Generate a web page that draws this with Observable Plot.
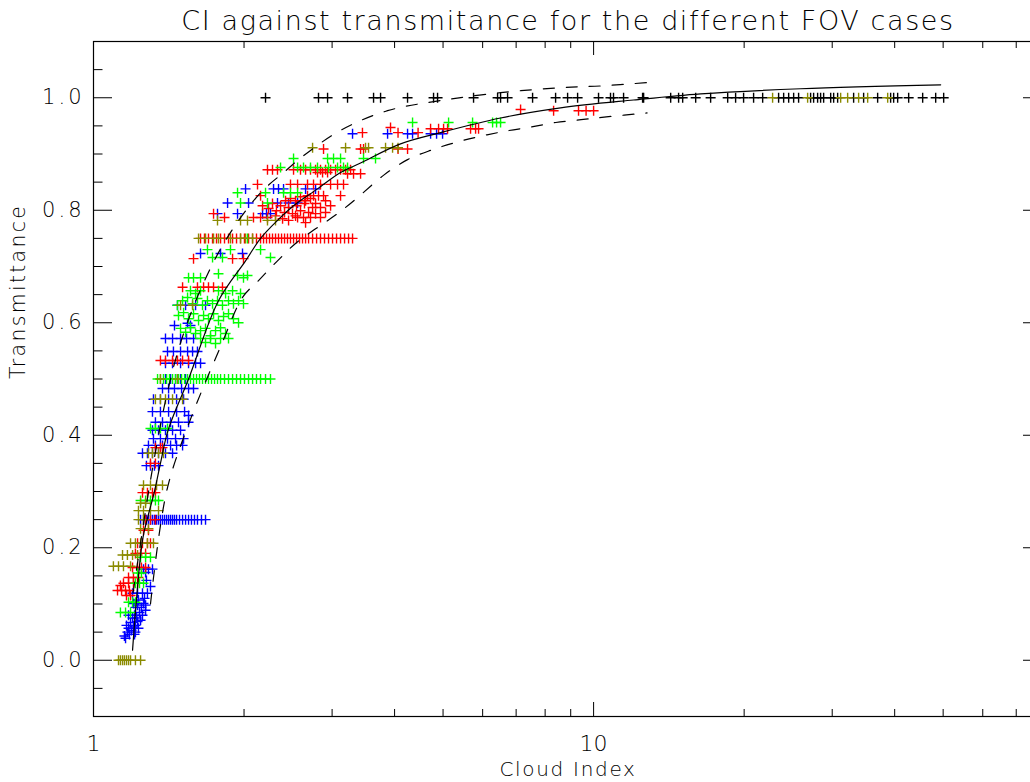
<!DOCTYPE html>
<html><head><meta charset="utf-8">
<script src="https://cdn.jsdelivr.net/npm/d3@7"></script>
<script src="https://cdn.jsdelivr.net/npm/@observablehq/plot@0.6"></script>
<style>
html,body{margin:0;padding:0;background:#fff;overflow:hidden;width:1030px;height:782px;}
#chart{position:absolute;left:0;top:0;width:1045px;}
#chart svg{max-width:none !important;}
</style></head><body><div id="chart"></div>
<script>
// ---- data (Cloud Index, Transmittance); rows are [T, CI, CI, ...] ----
const blueRows = [
 [0.039,1.159],[0.043,1.153],[0.046,1.180,1.208],[0.050,1.169,1.213],[0.053,1.191],
 [0.057,1.175,1.230],[0.059,1.202],[0.062,1.164,1.213],[0.067,1.186],[0.069,1.225],
 [0.071,1.242],[0.075,1.197,1.219],[0.080,1.175,1.208,1.253],[0.085,1.236],[0.089,1.271],
 [0.094,1.213,1.247],[0.098,1.225,1.271],[0.101,1.202,1.259],[0.107,1.230],[0.110,1.265],
 [0.119,1.197,1.225,1.253,1.282],[0.131,1.300],[0.142,1.276],[0.156,1.271],[0.162,1.259,1.288,1.312],
 [0.25,1.242,1.259,1.276,1.288,1.300,1.312,1.324,1.337,1.349,1.361,1.374,1.387,1.400,1.413,1.426,1.439,1.452,1.466,1.486,1.507,1.528,1.549,1.570,1.592,1.614,1.644,1.675],
 [0.346,1.276,1.300,1.324,1.349],
 [0.368,1.253,1.282,1.312,1.349,1.393,1.439],
 [0.382,1.288,1.330,1.374,1.426,1.466,1.507],
 [0.394,1.318,1.361,1.406,1.459,1.514],
 [0.409,1.312,1.349,1.393,1.439,1.493],
 [0.423,1.330,1.374,1.426,1.479,1.549],
 [0.435,1.549],
 [0.442,1.312,1.361,1.413,1.466,1.521],
 [0.464,1.318,1.361,1.413,1.466,1.514],
 [0.483,1.374,1.413,1.452,1.500,1.549,1.585],
 [0.5,1.393,1.426,1.459,1.493,1.528],
 [0.528,1.393,1.439,1.493,1.549,1.600,1.637],
 [0.549,1.406,1.445,1.493,1.542,1.578,1.614],
 [0.572,1.393,1.439,1.493,1.535,1.585],
 [0.595,1.452,1.563],[0.599,1.542],
 [0.631,1.472,1.528,1.600,1.675],
 [0.723,1.637,1.795,1.986],
 [0.794,1.770,1.941,2.178,2.218,2.259],
 [0.813,1.854,2.042,2.333,2.455,2.559],
 [0.838,2.014,2.291,2.344,2.399,2.655,2.780],
 [0.936,3.296,3.873,4.246,4.345,4.721,4.853,4.989]
];
const redRows = [
 [0.115,1.164,1.186],[0.124,1.117,1.138,1.159,1.180],[0.133,1.132],
 [0.137,1.148,1.175,1.202,1.225],[0.147,1.175,1.202,1.230],[0.165,1.197,1.225,1.247,1.271],
 [0.190,1.213,1.242,1.271],[0.208,1.225,1.253,1.282,1.300],[0.231,1.259,1.288],
 [0.25,1.271,1.300,1.330],[0.298,1.253,1.282,1.312,1.330],[0.35,1.300,1.330],[0.378,1.330,1.361,1.374],
 [0.533,1.361,1.393,1.439,1.472,1.507,1.549],
 [0.663,1.507,1.614,1.660,1.698,1.738,1.811],
 [0.714,1.585,1.897,1.995],
 [0.75,1.637,1.667,1.698,1.730,1.762,1.795,1.828,1.862,1.897,1.932,1.968,2.004,2.042,2.080,2.118,2.158,2.188,2.218,2.249,2.280,2.312,2.344,2.377,2.410,2.443,2.477,2.512,2.547,2.582,2.618,2.655,2.692,2.742,2.793,2.844,2.897,2.951,3.006,3.062,3.119,3.177,3.236,3.296],
 [0.778,2.655],[0.782,2.455],[0.785,2.388],
 [0.787,1.828,2.089,2.158,2.228,2.559,2.630,2.716,2.844],
 [0.790,2.312,2.535],[0.794,1.738,2.500,2.780],[0.796,2.410,2.692,2.911],[0.799,2.322,2.594],
 [0.803,2.239],[0.805,2.455,2.742,2.844],[0.808,2.178,2.366,2.547,2.979],[0.812,2.280,2.642,2.780],
 [0.817,2.421,2.535,2.655,2.911],[0.821,2.477,2.716],[0.824,2.594],
 [0.826,2.158,2.679,2.754,2.818,2.884,3.119],
 [0.846,2.128,2.477,2.559,2.679,2.754,2.844,2.979,3.076,3.162],
 [0.865,3.221,3.311,3.420],[0.867,2.805,2.871,2.938],
 [0.872,2.228,2.280,2.333,2.512,2.594,2.655,2.716,2.780,2.844,2.911,2.979,3.048,3.119,3.192,3.266],
 [0.909,2.884,3.420,3.467,4.064,4.246],
 [0.938,3.450,4.064,4.457],
 [0.945,4.721,4.898,5.012,5.105,5.675,5.808,5.888],
 [0.947,3.926],
 [0.977,8.318,9.330,9.660,10.0],[0.979,7.145]
];
const greenRows = [
 [0.085,1.132,1.159,1.186],[0.103,1.175,1.197,1.213],[0.137,1.213,1.236,1.259],
 [0.155,1.225,1.247],[0.183,1.242,1.271,1.300],[0.284,1.242,1.271,1.300,1.330,1.349],
 [0.412,1.300,1.330,1.361,1.406],
 [0.5,1.343,1.361,1.380,1.400,1.419,1.439,1.459,1.479,1.500,1.521,1.542,1.563,1.585,1.607,1.629,1.652,1.675,1.698,1.722,1.746,1.770,1.795,1.828,1.862,1.897,1.932,1.968,2.004,2.042,2.080,2.118,2.158,2.208,2.259],
 [0.563,1.754],[0.565,1.675],[0.572,1.637,1.714,1.795,1.862],[0.577,1.714],[0.581,1.600,1.837],
 [0.583,1.528],[0.586,1.637,1.754],[0.590,1.493,1.675],[0.591,1.563,1.795],[0.600,1.950],
 [0.604,1.622,1.778],[0.607,1.549,1.698,1.905],[0.611,1.820],[0.613,1.479,1.660],
 [0.616,1.585,1.738,1.862],[0.618,1.514],[0.631,1.472,1.652,1.811],[0.634,1.578,1.730,1.905,1.995],
 [0.639,1.507,1.690,1.770,1.862,1.950],[0.643,1.614],[0.645,1.542],[0.652,1.600,1.837,1.968],
 [0.657,1.563,1.637,1.778,1.897],[0.680,1.549,1.585,1.637,1.995],[0.684,1.941,2.032],[0.687,1.778],
 [0.716,1.730,1.811,2.259],[0.730,1.690,1.879,2.158],[0.75,2.032],
 [0.813,1.968,2.228],[0.831,1.941,2.208,2.399,2.477,2.559],
 [0.876,2.366,2.559,2.630,2.716,2.805,2.951,3.076,3.162,3.221],
 [0.892,2.512,2.938,3.020,3.119,3.467,3.664],
 [0.956,4.345,5.129,5.728,6.281,6.397,6.516]
];
const oliveRows = [
 [0,1.122,1.132,1.143,1.153,1.164,1.175,1.186,1.213,1.242],
 [0.167,1.096,1.122,1.148,1.186],[0.187,1.143,1.169,1.197,1.225],
 [0.208,1.186,1.213,1.242,1.282,1.318],[0.234,1.242,1.288],[0.25,1.230,1.259],
 [0.266,1.230,1.259,1.300,1.349],[0.279,1.242,1.271],[0.311,1.259,1.300,1.337,1.374],
 [0.368,1.288,1.312,1.349,1.380],[0.464,1.330,1.361,1.393,1.439,1.507],
 [0.5,1.361,1.472],[0.631,1.493,1.578],
 [0.75,1.622,1.675,1.738,1.778,1.879,1.968,2.014,2.080],
 [0.782,1.770,1.968,2.032,2.228,2.312],
 [0.911,2.742,3.192,3.499,3.548,3.837,3.963,4.064],
 [1.0,22.80,26.79,31.19,32.21,33.88,35.32,38.73]
];
const blackRows = [
 [1.0,2.208,2.818,2.938,3.221,3.631,3.750,4.246,4.786,4.875,5.754,6.427,6.516,6.730,7.551,8.395,8.872,9.290,10.23,10.81,10.96,11.48,12.53,12.59,14.26,14.79,15.07,16.00,17.14,18.54,19.23,19.95,20.89,21.78,23.44,23.99,24.55,25.12,25.70,27.16,27.54,28.05,28.44,28.84,29.79,30.20,30.76,33.11,34.67,36.98,39.26,39.81,40.55,42.66,45.50,48.31,50.12]
];
// fit curve and its bounds
const fitCI = [1.197,1.253,1.28,1.324,1.361,1.41,1.549,1.778,2.014,2.158,2.333,2.512,2.805,3.119,3.42,4.111,4.943,6.516,8.59,12.02,16.37,25.94,49.43];
const fitT  = [0.018,0.213,0.25,0.30,0.35,0.409,0.50,0.639,0.710,0.750,0.782,0.808,0.838,0.867,0.884,0.918,0.938,0.964,0.982,0.996,1.007,1.016,1.023];
const upCI = [1.20,1.30,1.40,1.50,1.66,1.862,2.158,2.421,2.63,3.133,3.873,4.943,6.516,8.59,10.34,12.79];
const upT  = [0.12,0.32,0.47,0.57,0.671,0.755,0.831,0.870,0.897,0.943,0.977,0.995,1.009,1.018,1.021,1.027];
const loCI = [1.30,1.40,1.55,1.80,1.986,2.138,2.333,2.535,2.78,3.076,3.388,3.80,4.246,4.74,5.32,5.97,6.7,7.5,8.4,9.44,10.6,12.79];
const loT  = [0.10,0.30,0.42,0.56,0.645,0.675,0.710,0.741,0.767,0.794,0.824,0.862,0.890,0.907,0.921,0.932,0.941,0.948,0.956,0.961,0.966,0.973];
// axis ticks
const xMajor = [1, 10];
const xMinor = [2,3,4,5,6,7,8,9,20,30,40,50,60,70];
const yMajor = [0, 0.2, 0.4, 0.6, 0.8, 1.0];
const yMinor = [-0.05,0.05,0.1,0.15,0.25,0.3,0.35,0.45,0.5,0.55,0.65,0.7,0.75,0.85,0.9,0.95,1.05];
const title = "CI against transmitance for the different FOV cases";
const xLabel = "Cloud Index";
const yLabel = "Transmittance";

const expand = rows => rows.flatMap(([t, ...cis]) => cis.map(ci => ({ci, t})));
const zipLine = (xs, ys) => xs.map((x, i) => ({ci: x, t: ys[i]}));

const plusSymbol = {
  draw(context, size) {
    const r = Math.sqrt(size / Math.PI);
    context.moveTo(-r, 0); context.lineTo(r, 0);
    context.moveTo(0, -r); context.lineTo(0, r);
  }
};
const FONT = "'DejaVu Sans', sans-serif";
const W = 1045, H = 782, ML = 93, MR = 3, MT = 41, MB = 66;
const PW = W - ML - MR, PH = H - MT - MB;
const pts = (rows, color) => Plot.dot(expand(rows), {x: "ci", y: "t", symbol: plusSymbol, r: 5, stroke: color, fill: "none", strokeWidth: 1.4});
const txt = {fontFamily: FONT, fontWeight: 200, fill: "black", lineAnchor: "middle"};

const chart = Plot.plot({
  width: W, height: H,
  marginLeft: ML, marginRight: MR, marginTop: MT, marginBottom: MB,
  x: {type: "log", domain: [1, 79], axis: null},
  y: {domain: [-0.1, 1.1], axis: null},
  style: {background: "white", overflow: "visible", maxWidth: "none"},
  marks: [
    pts(blackRows, "black"),
    pts(blueRows, "#0000ff"),
    pts(redRows, "#ff0000"),
    pts(greenRows, "#00ff00"),
    pts(oliveRows, "#8a8a00"),
    Plot.line(zipLine(fitCI, fitT), {x: "ci", y: "t", stroke: "black", strokeWidth: 1.2, curve: "catmull-rom"}),
    Plot.line(zipLine(upCI, upT), {x: "ci", y: "t", stroke: "black", strokeWidth: 1.2, strokeDasharray: "11,12", curve: "catmull-rom"}),
    Plot.line(zipLine(loCI, loT), {x: "ci", y: "t", stroke: "black", strokeWidth: 1.2, strokeDasharray: "11,12", curve: "catmull-rom"}),
    Plot.frame({stroke: "black", strokeWidth: 1.2}),
    Plot.tickX(xMajor, {x: d => d, insetTop: PH - 14, stroke: "black"}),
    Plot.tickX(xMinor, {x: d => d, insetTop: PH - 7, stroke: "black"}),
    Plot.tickX(xMajor, {x: d => d, insetBottom: PH - 14, stroke: "black"}),
    Plot.tickX(xMinor, {x: d => d, insetBottom: PH - 7, stroke: "black"}),
    Plot.tickY(yMajor, {y: d => d, insetRight: PW - 19, stroke: "black"}),
    Plot.tickY(yMinor, {y: d => d, insetRight: PW - 9.5, stroke: "black"}),
    Plot.tickY(yMajor, {y: d => d, insetLeft: PW - 19, stroke: "black"}),
    Plot.tickY(yMinor, {y: d => d, insetLeft: PW - 9.5, stroke: "black"}),
    Plot.text(yMajor, {y: d => d, frameAnchor: "left", dx: -9, textAnchor: "end", text: d => d.toFixed(1), fontSize: 21, ...txt}),
    Plot.text(xMajor, {x: d => d, frameAnchor: "bottom", dy: 27, text: d => String(d), fontSize: 22, ...txt}),
    Plot.text([xLabel], {frameAnchor: "bottom", dy: 53, text: d => d, fontSize: 20, ...txt}),
    Plot.text([yLabel], {frameAnchor: "left", dx: -75, rotate: -90, text: d => d, fontSize: 20.5, ...txt}),
    Plot.text([title], {frameAnchor: "top", dy: -20, text: d => d, fontSize: 27, ...txt})
  ]
});
// letter spacing to mimic the wide vector font of the original
const spacing = {"27": "1.6px", "21": "3px", "20": "1.7px", "20.5": "2.3px"};
d3.select(chart).selectAll("g[font-size]").each(function() {
  const s = spacing[this.getAttribute("font-size")];
  if (s) this.setAttribute("letter-spacing", s);
});
document.getElementById("chart").appendChild(chart);
</script></body></html>
